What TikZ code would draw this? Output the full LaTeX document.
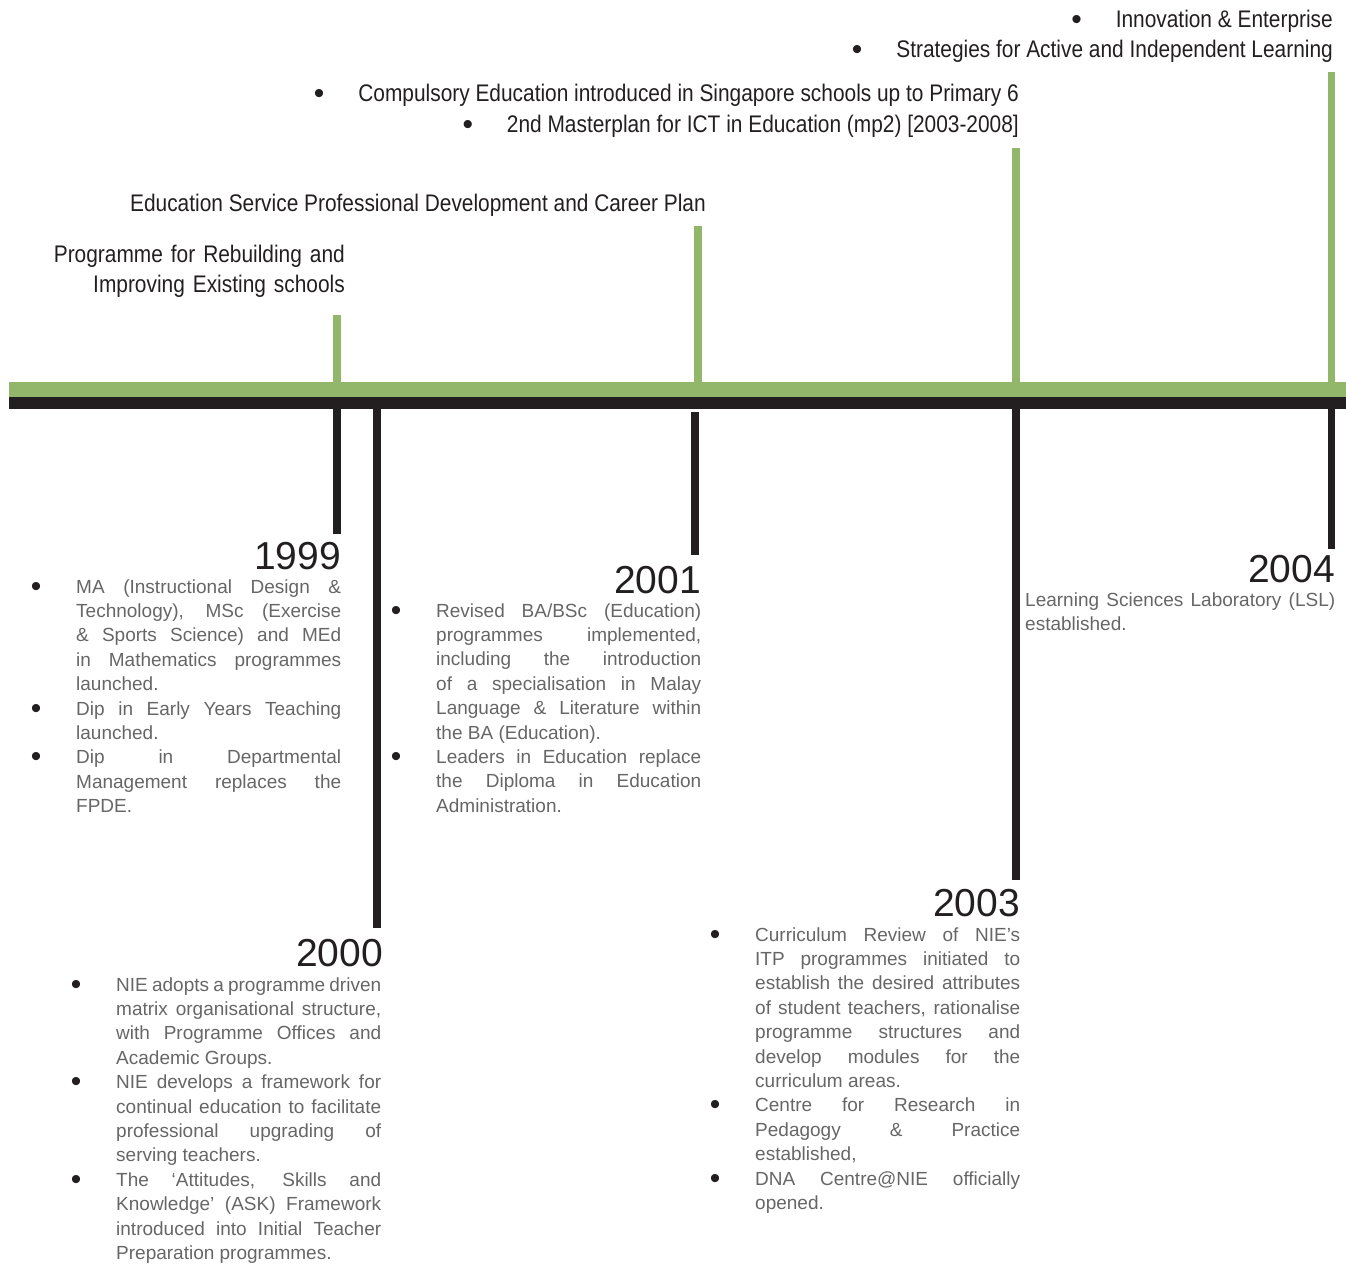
\documentclass[tikz,border=0pt]{standalone}
\usepackage{fontspec}
\setmainfont{Liberation Sans}
\newfontfamily\condfont[FakeStretch=0.87]{Liberation Sans}
\newfontfamily\yearfont{Liberation Sans}
\definecolor{tlgreen}{HTML}{92B76B}
\definecolor{tlblack}{HTML}{231F20}
\definecolor{bodygray}{HTML}{666666}
\newcommand\bul{\leavevmode\llap{\raisebox{-3pt}{\color{tlblack}\fontsize{30}{30}\selectfont\textbullet}\hskip 34.8pt}}
\tikzset{
  x=1pt, y=-1pt,
  headline/.style={inner sep=0pt, anchor=base east, text=tlblack,
    font=\condfont\fontsize{24}{30}\selectfont},
  hbullet/.style={inner sep=0pt, anchor=base, text=tlblack, yshift=-2.5pt,
    font=\fontsize{30}{30}\selectfont},
  yearlabel/.style={inner sep=0pt, anchor=base east, text=tlblack,
    font=\yearfont\fontsize{39}{39}\selectfont},
  bodytext/.style={inner sep=0pt, anchor=base west, text width=265pt,
    align=justify, text=bodygray, font=\fontsize{19}{24.4}\selectfont,
    execute at begin node={\tolerance=10000\hbadness=10000\hfuzz=6pt}},
  gtick/.style={draw=tlgreen, line width=7.8pt},
  btick/.style={draw=tlblack, line width=7.8pt},
}
\begin{document}
\begin{tikzpicture}
\useasboundingbox (0,0) rectangle (1346,1264);
% main bands
\fill[tlgreen] (9,382) rectangle (1346,397);
\fill[tlblack] (9,397) rectangle (1346,408.5);

% coordinates on the bands
\coordinate (g99) at (337,382);
\coordinate (g01) at (698,382);
\coordinate (g03) at (1016,382);
\coordinate (g04) at (1331.5,382);
\coordinate (b99) at (337,408);
\coordinate (b00) at (377,408);
\coordinate (b01) at (695,412);
\coordinate (b03) at (1016,408);
\coordinate (b04) at (1331.5,408);

% green ticks (above)
\coordinate (gt99) at (337,315);
\coordinate (gt01) at (698,226);
\coordinate (gt03) at (1016,148);
\coordinate (gt04) at (1331.5,72);
\draw[gtick] (g99) -- (gt99);
\draw[gtick] (g01) -- (gt01);
\draw[gtick] (g03) -- (gt03);
\draw[gtick] (g04) -- (gt04);

% black ticks (below)
\coordinate (bt99) at (337,534);
\coordinate (bt00) at (377,928);
\coordinate (bt01) at (695,555);
\coordinate (bt03) at (1016,880);
\coordinate (bt04) at (1331.5,549);
\draw[btick] (b99) -- (bt99);
\draw[btick] (b00) -- (bt00);
\draw[btick] (b01) -- (bt01);
\draw[btick] (b03) -- (bt03);
\draw[btick] (b04) -- (bt04);

% headlines above the line
\node[headline] (h1) at (1333,27) {Innovation \& Enterprise};
\node[hbullet] (hb1) at ([xshift=-39pt]h1.base west) {\textbullet};
\node[headline] (h2) at (1333,57) {Strategies for Active and Independent Learning};
\node[hbullet] (hb2) at ([xshift=-39pt]h2.base west) {\textbullet};
\node[headline] (h3) at (1019,101) {Compulsory Education introduced in Singapore schools up to Primary 6};
\node[hbullet] (hb3) at ([xshift=-39pt]h3.base west) {\textbullet};
\node[headline] (h4) at (1019,132) {2nd Masterplan for ICT in Education (mp2) [2003-2008]};
\node[hbullet] (hb4) at ([xshift=-39pt]h4.base west) {\textbullet};
\node[headline] (h5) at (706,211) {Education Service Professional Development and Career Plan};
\node[headline, text width=320pt, align=right] (h6) at (345,262) {Programme for Rebuilding and\\Improving Existing schools};

% years
\node[yearlabel] (y99) at (341,569) {1999};
\node[yearlabel] (y00) at (383,966) {2000};
\node[yearlabel] (y01) at (701,593) {2001};
\node[yearlabel] (y03) at (1020,916) {2003};
\node[yearlabel] (y04) at (1335,582) {2004};

% body texts
\node[bodytext] (t99) at (76,593) {\bul MA (Instructional Design \&\linebreak Technology), MSc (Exercise\linebreak \& Sports Science) and MEd\linebreak in Mathematics programmes\linebreak launched.\par
\bul Dip in Early Years Teaching\linebreak launched.\par
\bul Dip in Departmental\linebreak Management replaces the\linebreak FPDE.};

\node[bodytext] (t00) at (116,991) {\bul NIE adopts a programme driven\linebreak matrix organisational structure,\linebreak with Programme Offices and\linebreak Academic Groups.\par
\bul NIE develops a framework for\linebreak continual education to facilitate\linebreak professional upgrading of\linebreak serving teachers.\par
\bul The ‘Attitudes, Skills and\linebreak Knowledge’ (ASK) Framework\linebreak introduced into Initial Teacher\linebreak Preparation programmes.};

\node[bodytext] (t01) at (436,617) {\bul Revised BA/BSc (Education)\linebreak programmes implemented,\linebreak including the introduction\linebreak of a specialisation in Malay\linebreak Language \& Literature within\linebreak the BA (Education).\par
\bul Leaders in Education replace\linebreak the Diploma in Education\linebreak Administration.};

\node[bodytext] (t03) at (755,941) {\bul Curriculum Review of NIE’s\linebreak ITP programmes initiated to\linebreak establish the desired attributes\linebreak of student teachers, rationalise\linebreak programme structures and\linebreak develop modules for the\linebreak curriculum areas.\par
\bul Centre for Research in\linebreak Pedagogy \& Practice\linebreak established,\par
\bul DNA Centre@NIE officially\linebreak opened.};

\node[bodytext, text width=310pt] (t04) at (1025,606) {Learning Sciences Laboratory (LSL)\linebreak established.};
\end{tikzpicture}
\end{document}
